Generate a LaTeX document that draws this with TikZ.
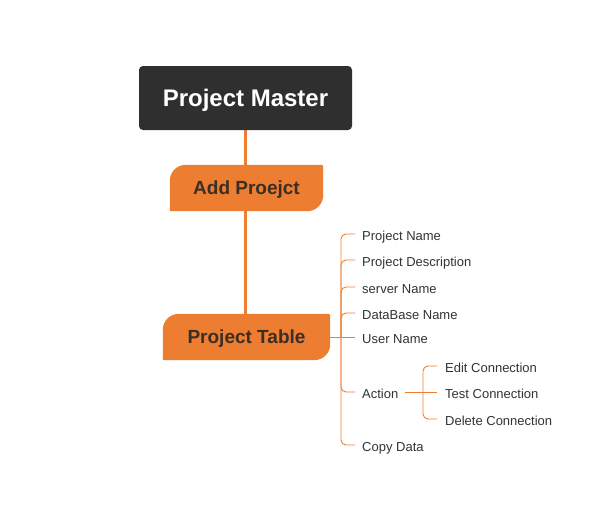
\documentclass[tikz,border=0pt]{standalone}
\usepackage{fontspec}
\setmainfont{Liberation Sans}
\usetikzlibrary{backgrounds}
\definecolor{darkbox}{HTML}{2F2F2F}
\definecolor{accent}{HTML}{ED7D31}
\definecolor{boxtext}{HTML}{3A2E25}
\definecolor{leaftext}{HTML}{333333}
\tikzset{
  rootbox/.style={fill=darkbox, rounded corners=4pt, inner sep=0pt,
    text height=17.2pt, text depth=0pt,
    text=white, font=\fontsize{24}{28}\selectfont\bfseries},
  topicbox/.style={inner sep=0pt, text=boxtext,
    text height=13.6pt, text depth=0pt,
    font=\fontsize{19}{23}\selectfont\bfseries},
  leaf/.style={anchor=west, inner sep=0pt, text=leaftext,
    text height=12.5pt, text depth=0pt, font=\fontsize{13}{15}\selectfont},
  trunk/.style={draw=accent, line width=3pt},
  twig/.style={draw=accent, line width=0.9pt, rounded corners=5pt},
}
% orange topic shape: large rounding on the top-left and bottom-right corners
\newcommand{\topicshape}[2]{%
  \fill[accent] (#1.south west) -- ([yshift=-#2]#1.north west)
    arc[start angle=180, end angle=90, radius=#2]
    -- ([xshift=-2pt]#1.north east) arc[start angle=90, end angle=0, radius=2pt]
    -- ([yshift=#2]#1.south east)
    arc[start angle=0, end angle=-90, radius=#2] -- cycle;}
\begin{document}
\begin{tikzpicture}[x=1pt, y=-1pt]
  \begin{scope}[on background layer]
    \fill[white] (0,0) rectangle (614,507);
  \end{scope}
  \useasboundingbox (0,0) rectangle (614,507);

  % main topics
  \node[rootbox, minimum width=213pt, minimum height=64pt] (pm) at (245.5,98) {Project Master};
  \node[topicbox, minimum width=153pt, minimum height=46pt] (ap) at (246.5,188) {Add Proejct};
  \node[topicbox, minimum width=167pt, minimum height=46pt] (pt) at (246.5,337) {Project Table};

  % leaves of the table topic
  \node[leaf] (pn) at (362,234) {Project Name};
  \node[leaf] (pd) at (362,260) {Project Description};
  \node[leaf] (sn) at (362,287) {server Name};
  \node[leaf] (dn) at (362,313) {DataBase Name};
  \node[leaf] (un) at (362,337) {User Name};
  \node[leaf] (ac) at (362,392) {Action};
  \node[leaf] (cd) at (362,445) {Copy Data};

  % leaves of the action branch
  \node[leaf] (ec) at (445,366) {Edit Connection};
  \node[leaf] (tc) at (445,392) {Test Connection};
  \node[leaf] (dc) at (445,419) {Delete Connection};

  \coordinate (spine) at (341,337);
  \coordinate (aspine) at (423,392);

  \begin{scope}[on background layer]
    \draw[trunk] (pm.south) -- (pm.south |- pt.north);
    \topicshape{ap}{16pt}
    \topicshape{pt}{16pt}

    % table branch
    \draw[twig] (pt.east) -- ([xshift=-7pt]un.west);
    \foreach \n in {pn,pd,sn,dn,ac,cd}
      \draw[twig] (spine) |- ([xshift=-7pt]\n.west);

    % action branch
    \draw[twig] ([xshift=6pt]ac.east) -- ([xshift=-8pt]tc.west);
    \foreach \n in {ec,dc}
      \draw[twig] (aspine) |- ([xshift=-8pt]\n.west);
  \end{scope}
\end{tikzpicture}
\end{document}
